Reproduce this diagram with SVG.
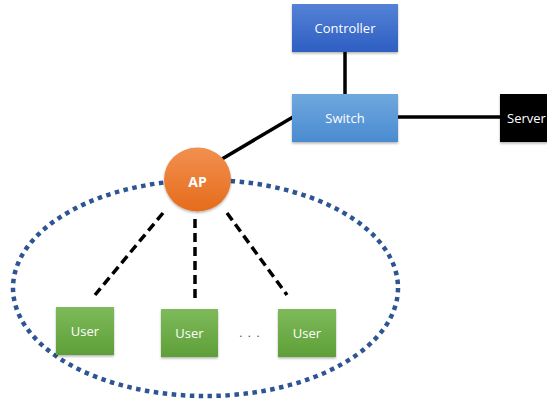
<svg xmlns="http://www.w3.org/2000/svg" width="547" height="402" viewBox="0 0 547 402">
<defs>
<linearGradient id="gCtrl" x1="0" y1="0" x2="0" y2="1"><stop offset="0" stop-color="#5482D6"/><stop offset="1" stop-color="#2E5EC2"/></linearGradient>
<linearGradient id="gSw" x1="0" y1="0" x2="0" y2="1"><stop offset="0" stop-color="#6FA8DE"/><stop offset="1" stop-color="#4A8BD0"/></linearGradient>
<linearGradient id="gUser" x1="0" y1="0" x2="0" y2="1"><stop offset="0" stop-color="#7EBA5B"/><stop offset="1" stop-color="#5E9F37"/></linearGradient>
<linearGradient id="gAP" x1="0" y1="0" x2="0" y2="1"><stop offset="0" stop-color="#F2904F"/><stop offset="1" stop-color="#E56C1C"/></linearGradient>
<filter id="sh" x="-20%" y="-20%" width="140%" height="150%"><feDropShadow dx="0" dy="1.5" stdDeviation="1.2" flood-color="#000" flood-opacity="0.3"/></filter>
</defs>
<style>
.lbl{font-family:"Open Sans","Liberation Sans",sans-serif;font-size:13px;fill:#fff;text-anchor:middle;dominant-baseline:central}
.solid{stroke:#000;stroke-width:3.5;fill:none}
.dash{stroke:#000;stroke-width:3.5;stroke-dasharray:9 5;fill:none}
</style>
<g id="connectors">
<line class="solid" x1="345" y1="52" x2="345" y2="94"/>
<line class="solid" x1="398" y1="117" x2="500" y2="117"/>
<line class="solid" x1="222" y1="159" x2="293" y2="117"/>
<line class="dash" x1="163" y1="213" x2="95" y2="295"/>
<line class="dash" x1="195" y1="219" x2="195" y2="302"/>
<line class="dash" x1="227" y1="213" x2="287" y2="295"/>
</g>
<g id="cell">
<ellipse cx="205.5" cy="288" rx="192.5" ry="108" fill="none" stroke="#2D5593" stroke-width="4.5" stroke-dasharray="4.5 4.5"/>
</g>
<g id="controller"><rect x="292" y="4" width="106" height="48" fill="url(#gCtrl)" filter="url(#sh)"/><text class="lbl" x="345" y="28">Controller</text></g>
<g id="switch"><rect x="292" y="94" width="106" height="48" fill="url(#gSw)" filter="url(#sh)"/><text class="lbl" x="345" y="118">Switch</text></g>
<g id="server"><rect x="500" y="94" width="106" height="48" fill="#000" filter="url(#sh)"/><text class="lbl" x="507" y="118" style="text-anchor:start">Server</text></g>
<g id="ap"><ellipse cx="197.5" cy="179.5" rx="33.5" ry="32" fill="url(#gAP)" filter="url(#sh)"/><text class="lbl" x="197.5" y="181" style="font-weight:bold;font-size:14px">AP</text></g>
<g id="user1"><rect x="56" y="307" width="58" height="48" fill="url(#gUser)" filter="url(#sh)"/><text class="lbl" x="85" y="331">User</text></g>
<g id="user2"><rect x="161" y="309" width="57" height="48" fill="url(#gUser)" filter="url(#sh)"/><text class="lbl" x="189.5" y="333">User</text></g>
<g id="user3"><rect x="278" y="309" width="58" height="48" fill="url(#gUser)" filter="url(#sh)"/><text class="lbl" x="307" y="333">User</text></g>
<text x="239" y="337" style="font-family:'Liberation Sans',sans-serif;font-size:13px;fill:#555;letter-spacing:5px">...</text>
</svg>
